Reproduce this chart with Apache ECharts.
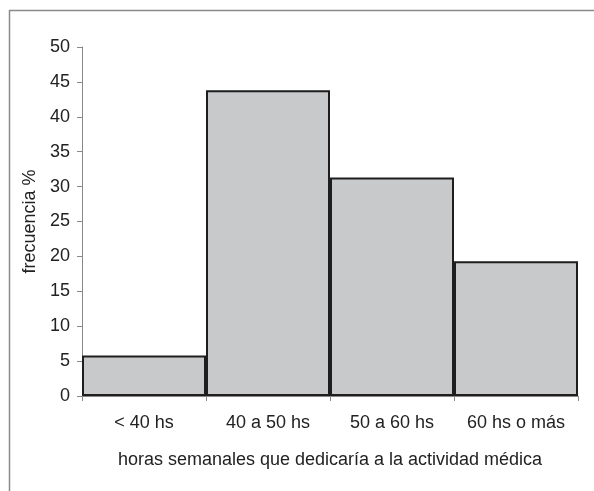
<!DOCTYPE html>
<html>
<head>
<meta charset="utf-8">
<script src="https://cdn.jsdelivr.net/npm/echarts@6/dist/echarts.min.js"></script>
<style>
html, body { margin: 0; padding: 0; background: #fff; }
#chart { width: 594px; height: 491px; }
</style>
</head>
<body>
<div id="chart"></div>
<script>
var categories = ['< 40 hs', '40 a 50 hs', '50 a 60 hs', '60 hs o más'];
var frecuencia = [5.8, 43.8, 31.3, 19.3];
var yTicks = { min: 0, max: 50, interval: 5 };

var font = 'Liberation Sans, Arial, sans-serif';
var option = {
    animation: false,
    grid: { left: 82, right: 16, top: 47, bottom: 95 },
    // marco gris arriba e izquierda
    graphic: [
        { type: 'line', shape: { x1: 9.5, y1: 10, x2: 9.5, y2: 491 }, style: { stroke: '#8a8a8a', lineWidth: 1.5 } },
        { type: 'line', shape: { x1: 9, y1: 10.5, x2: 594, y2: 10.5 }, style: { stroke: '#8a8a8a', lineWidth: 1.5 } }
    ],
    xAxis: {
        type: 'category',
        data: categories,
        boundaryGap: true,
        name: 'horas semanales que dedicaría a la actividad médica',
        nameLocation: 'middle',
        nameGap: 55,
        nameTextStyle: { fontFamily: font, fontSize: 18, color: '#222' },
        axisLine: { lineStyle: { color: '#888', width: 1 } },
        axisTick: { show: true, interval: 0, length: 5, lineStyle: { color: '#888' } },
        axisLabel: { interval: 0, hideOverlap: false, fontFamily: font, fontSize: 18, color: '#222', margin: 18 }
    },
    yAxis: {
        type: 'value',
        min: yTicks.min,
        max: yTicks.max,
        interval: yTicks.interval,
        name: 'frecuencia %',
        nameLocation: 'middle',
        nameGap: 43,
        nameTextStyle: { fontFamily: font, fontSize: 18, color: '#222' },
        axisLine: { show: true, lineStyle: { color: '#888', width: 1 } },
        axisTick: { show: true, length: 5, lineStyle: { color: '#888' } },
        axisLabel: { fontFamily: font, fontSize: 18, color: '#222', margin: 12 },
        splitLine: { show: false }
    },
    series: [
        {
            type: 'bar',
            data: frecuencia,
            barCategoryGap: '0%',
            itemStyle: {
                color: '#c8c9cb',
                borderColor: '#1e1e1e',
                borderWidth: 2
            }
        }
    ]
};

var myChart = echarts.init(document.getElementById('chart'));
myChart.setOption(option);
</script>
</body>
</html>
